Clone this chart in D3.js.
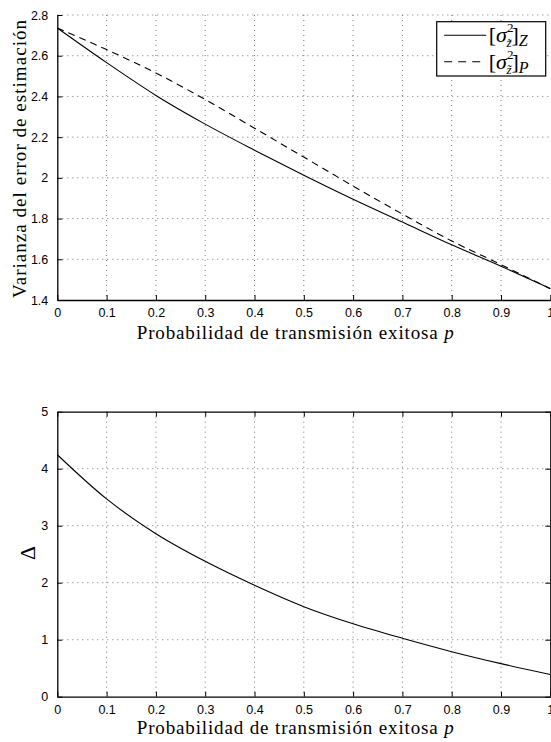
<!DOCTYPE html>
<html>
<head>
<meta charset="utf-8">
<script src="https://cdn.jsdelivr.net/npm/d3@7"></script>
<style>
  body { margin: 0; background: #fff; }
  svg { display: block; }
  .tick text { font-family: "Liberation Sans", Arial, sans-serif; font-size: 12.5px; fill: #000; }
  .title { font-family: "Liberation Serif", "Times New Roman", serif; font-size: 19px; fill: #000; }
</style>
</head>
<body>
<div id="container"></div>
<script>
/* CONSTANTS AND GLOBALS */
const width = 551;
const height = 742;

// pixel frame of each axes
const top1 = { left: 57.3, right: 550.3, top: 15, bottom: 300 };
const top2 = { left: 57.3, right: 550.3, top: 411.7, bottom: 696.7 };

/* DATA */
const pValues = [0, 0.1, 0.2, 0.3, 0.4, 0.5, 0.6, 0.7, 0.8, 0.9, 1.0];
const varZ = [2.736, 2.566, 2.405, 2.264, 2.136, 2.013, 1.895, 1.783, 1.671, 1.566, 1.457];
const varP = [2.736, 2.630, 2.515, 2.385, 2.244, 2.102, 1.960, 1.822, 1.690, 1.574, 1.455];
const delta = [4.245, 3.470, 2.860, 2.375, 1.955, 1.580, 1.280, 1.025, 0.790, 0.580, 0.390];

const xTicks = [0, 0.1, 0.2, 0.3, 0.4, 0.5, 0.6, 0.7, 0.8, 0.9, 1];
const yTicksTop = [1.4, 1.6, 1.8, 2, 2.2, 2.4, 2.6, 2.8];
const yTicksBottom = [0, 1, 2, 3, 4, 5];

const xLabel = "Probabilidad de transmisión exitosa ";
const yLabelTop = "Varianza del error de estimación";

/* SVG */
const svg = d3.select("#container")
  .append("svg")
  .attr("width", width)
  .attr("height", height);

const fmt = d => String(+d.toFixed(1));

function panel(box, yDomain, yTicks, boxed) {
  const xScale = d3.scaleLinear().domain([0, 1]).range([box.left, box.right]);
  const yScale = d3.scaleLinear().domain(yDomain).range([box.bottom, box.top]);
  const g = svg.append("g");

  // dotted grid
  g.append("g")
    .selectAll("line")
    .data(xTicks.slice(1, -1))
    .join("line")
    .attr("x1", d => xScale(d)).attr("x2", d => xScale(d))
    .attr("y1", box.top).attr("y2", box.bottom)
    .attr("stroke", "#777").attr("stroke-width", 1)
    .attr("stroke-dasharray", "1,4");
  g.append("g")
    .selectAll("line")
    .data(yTicks.slice(1, boxed ? -1 : yTicks.length))
    .join("line")
    .attr("x1", box.left).attr("x2", box.right)
    .attr("y1", d => yScale(d)).attr("y2", d => yScale(d))
    .attr("stroke", "#777").attr("stroke-width", 1)
    .attr("stroke-dasharray", "1,4");

  // axes
  const xAxis = d3.axisBottom(xScale).tickValues(xTicks).tickFormat(fmt)
    .tickSizeInner(-5).tickSizeOuter(0).tickPadding(8);
  g.append("g")
    .attr("transform", `translate(0,${box.bottom})`)
    .call(xAxis)
    .call(a => a.select(".domain").attr("stroke-width", 1.3));

  const yAxis = d3.axisLeft(yScale).tickValues(yTicks).tickFormat(fmt)
    .tickSizeInner(-5).tickSizeOuter(0).tickPadding(9);
  g.append("g")
    .attr("transform", `translate(${box.left},0)`)
    .call(yAxis)
    .call(a => a.select(".domain").attr("stroke-width", 1.3));

  if (boxed) {
    g.append("g")
      .attr("transform", `translate(0,${box.top})`)
      .call(d3.axisTop(xScale).tickValues(xTicks).tickFormat("").tickSizeInner(-5).tickSizeOuter(0))
      .call(a => a.select(".domain").attr("stroke-width", 1.3));
    g.append("g")
      .attr("transform", `translate(${box.right},0)`)
      .call(d3.axisRight(yScale).tickValues(yTicks).tickFormat("").tickSizeInner(-5).tickSizeOuter(0))
      .call(a => a.select(".domain").attr("stroke-width", 1.3));
  }

  // x label
  const t = g.append("text")
    .attr("class", "title")
    .attr("x", 136.7)
    .attr("y", box.bottom + (boxed ? 37 : 39))
    .attr("textLength", 317)
    .attr("lengthAdjust", "spacing");
  t.append("tspan").text(xLabel);
  t.append("tspan").attr("font-style", "italic").text("p");

  return { xScale, yScale, g };
}

/* TOP PANEL */
const p1 = panel(top1, [1.4, 2.8], yTicksTop, false);

const line1 = d3.line()
  .x((d, i) => p1.xScale(pValues[i]))
  .y(d => p1.yScale(d))
  .curve(d3.curveMonotoneX);

p1.g.append("path")
  .attr("d", line1(varZ))
  .attr("fill", "none").attr("stroke", "#000").attr("stroke-width", 1.1);
p1.g.append("path")
  .attr("d", line1(varP))
  .attr("fill", "none").attr("stroke", "#000").attr("stroke-width", 1.1)
  .attr("stroke-dasharray", "7,5");

p1.g.append("text")
  .attr("class", "title")
  .attr("transform", `translate(26,159) rotate(-90)`)
  .attr("text-anchor", "middle")
  .attr("textLength", 278)
  .attr("lengthAdjust", "spacing")
  .text(yLabelTop);

// legend
const leg = svg.append("g").attr("transform", "translate(436.7,21.7)");
leg.append("rect")
  .attr("width", 109).attr("height", 54.3)
  .attr("fill", "#fff").attr("stroke", "#000").attr("stroke-width", 1.2);
const legItems = [
  { name: "Z", dash: null, y: 13.5 },
  { name: "P", dash: "8,6", y: 40 }
];
legItems.forEach(it => {
  leg.append("line")
    .attr("x1", 7.5).attr("x2", 49.5).attr("y1", it.y).attr("y2", it.y)
    .attr("stroke", "#000").attr("stroke-width", 1.1)
    .attr("stroke-dasharray", it.dash);
  const lt = leg.append("text")
    .attr("class", "title")
    .attr("x", 52).attr("y", it.y + 7)
    .style("font-size", "22px");
  lt.append("tspan").text("[");
  lt.append("tspan").attr("font-style", "italic").text("σ");
  lt.append("tspan").attr("dy", -10).style("font-size", "13px").text("2");
  lt.append("tspan").attr("dx", -7).attr("dy", 15).attr("font-style", "italic").style("font-size", "13px").text("z̃");
  lt.append("tspan").attr("dy", -5).text("]");
  lt.append("tspan").attr("dy", 4).attr("font-style", "italic").style("font-size", "16px").text(it.name);
});

/* BOTTOM PANEL */
const p2 = panel(top2, [0, 5], yTicksBottom, true);

const line2 = d3.line()
  .x((d, i) => p2.xScale(pValues[i]))
  .y(d => p2.yScale(d))
  .curve(d3.curveMonotoneX);

p2.g.append("path")
  .attr("d", line2(delta))
  .attr("fill", "none").attr("stroke", "#000").attr("stroke-width", 1.1);

p2.g.append("text")
  .attr("class", "title")
  .attr("transform", `translate(35,553) rotate(-90)`)
  .attr("text-anchor", "middle")
  .style("font-size", "22px")
  .text("Δ");
</script>
</body>
</html>
